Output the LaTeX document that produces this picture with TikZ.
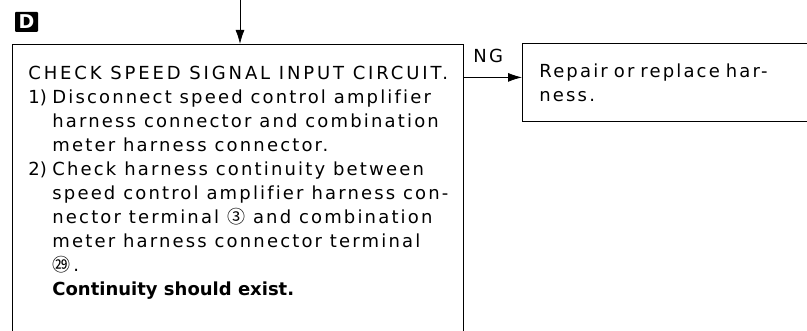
\documentclass[tikz,border=0pt]{standalone}
\usepackage{fontspec}
\setmainfont{DejaVu Sans}[LetterSpace=12, Ligatures=NoCommon]
\newfontfamily\cjkfont{Noto Sans CJK SC}
\usepackage{tikz}
\usetikzlibrary{arrows.meta,positioning,calc}
\newlength{\itemind}
\setlength{\itemind}{24pt}
\newcommand{\itm}[1]{\makebox[\itemind][l]{\addfontfeature{LetterSpace=0}#1}}
\newcommand{\ind}{\hspace*{\itemind}}
\newcommand{\term}[1]{{\cjkfont #1}}
\newcommand{\headline}[1]{{\addfontfeature{LetterSpace=16}#1}}
\newcommand{\verdict}[1]{{\bfseries\addfontfeature{LetterSpace=0}#1}}

\begin{document}
\begin{tikzpicture}[x=1pt, y=-1pt, line width=0.8pt,
  font=\fontsize{18}{24}\selectfont,
  flow/.style={-{Latex[length=14pt,width=9pt]}},
  frame/.style={draw, anchor=north west},
  textblock/.style={align=left, inner sep=0pt}]
\useasboundingbox (0,0) rectangle (807,331);
\clip (0,0) rectangle (807,331);

% step tag
\node[fill=black, text=white, font=\fontsize{19}{19}\selectfont\bfseries,
  minimum width=23pt, minimum height=20pt, inner sep=0pt, rounded corners=1pt] (tag) at (26.5,22) {D};

% check box
\node[frame, minimum width=451pt, minimum height=320pt, inner sep=0pt] (check) at (12,44) {};
\node[textblock, below right=22pt and 16pt of check.north west] (checktext) {%
\headline{CHECK SPEED SIGNAL INPUT CIRCUIT.}\\
\itm{1)}Disconnect speed control amplifier\\
\ind harness connector and combination\\
\ind meter harness connector.\\
\itm{2)}Check harness continuity between\\
\ind speed control amplifier harness con-\\
\ind nector terminal \term{③} and combination\\
\ind meter harness connector terminal\\
\ind \term{㉙}\,.\\
\ind\verdict{Continuity should exist.}};

% NG result
\node[frame, text width=290pt, inner xsep=17pt, minimum height=78pt, align=left] (repair) at (522,43)
  {Repair or replace har-\\ness.};

\coordinate (in) at (240,0);
\coordinate (ng in) at ([yshift=5pt]repair.west);
\draw[flow] (in) -- (in |- check.north);
\draw[flow] (check.east |- ng in) -- node[above=11pt, pos=0.42] (ng) {NG} (ng in);
\end{tikzpicture}
\end{document}
